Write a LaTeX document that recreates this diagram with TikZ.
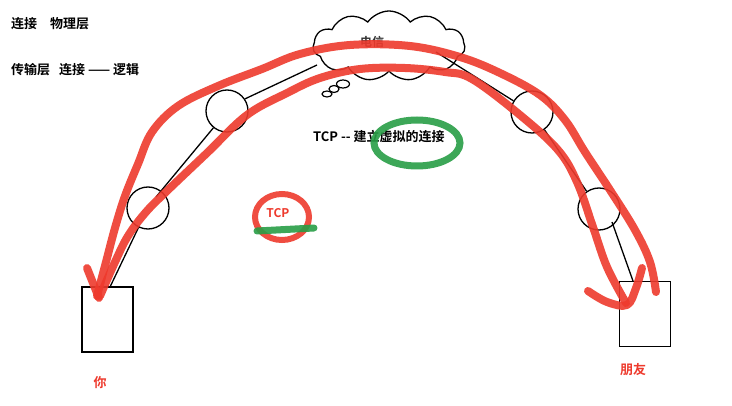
\documentclass[tikz,border=0pt]{standalone}
\usepackage{fontspec}
\setmainfont{Noto Sans CJK SC}[BoldFont={Noto Sans CJK SC Bold}]
\usetikzlibrary{shapes.symbols,shapes.geometric}
\definecolor{pen}{RGB}{238,58,45}
\definecolor{gpen}{RGB}{40,158,70}
\begin{document}
\begin{tikzpicture}[x=1pt,y=-1pt,
  lbl/.style={font=\bfseries\fontsize{13}{15}\selectfont, inner sep=0, anchor=west},
  boxnode/.style={draw, line width=1.5, minimum width=51, minimum height=65, inner sep=0},
  ring/.style={draw, circle, line width=1.3, minimum size=42, inner sep=0},
  wire/.style={line width=1.3},
  redpen/.style={draw=pen, line width=8, line cap=round, line join=round, opacity=0.9},
  greenpen/.style={draw=gpen, line width=7, line cap=round, opacity=0.9}]
\useasboundingbox (0,0) rectangle (732,406);
\fill[white] (0,0) rectangle (732,406);

% boxes and repeaters
\node[boxnode] (you) at (107.5,319.5) {};
\node[boxnode] (friend) at (645,314) {};
\node[ring] (c1) at (148,208) {};
\node[ring] (c2) at (227,111) {};
\node[ring] (c3) at (532,112) {};
\node[ring] (c4) at (599,209) {};
\node[cloud, draw, cloud puffs=11, cloud puff arc=110, aspect=2.1,
      minimum width=152, minimum height=70, line width=1.3, inner sep=0] (cloud) at (389,46) {};
\draw[line width=1.2] (343,84) ellipse [x radius=6.5, y radius=4];
\draw[line width=1.2] (334,89) ellipse [x radius=5, y radius=3.5];
\draw[line width=1.2] (327,94) ellipse [x radius=5, y radius=3];
\node[font=\bfseries\fontsize{12}{14}\selectfont, text=black!80, inner sep=0] (tel) at (372,42) {电信};

% wires
\coordinate (w1) at (110,287);
\coordinate (w2) at (156,197);
\coordinate (cl) at (317,65);
\coordinate (cr) at (436,52);
\coordinate (w5) at (612,222);
\coordinate (w6) at (633,281);
\draw[wire] (w1) -- (c1.244);
\draw[wire] (w2) -- (c2.231);
\draw[wire] (c2.34) -- (cl);
\draw[wire] (cr) -- (c3.149);
\draw[wire] (c3.305) -- (c4.125);
\draw[wire] (w5) -- (w6);

% red strokes
\draw[redpen] plot[smooth, tension=0.6] coordinates {
 (97,296) (106,262) (115,228) (125,196) (138,164) (152,132) (178,106) (218,86) (262,69)
 (300,54) (350,45) (410,46) (460,57) (500,73) (540,95) (565,120) (585,152) (610,190)
 (635,230) (650,262) (656,292)};
\draw[redpen] plot[smooth, tension=0.6] coordinates {
 (100,296) (115,262) (128,236) (146,212) (168,190) (207,153) (247,115) (287,93) (320,78)
 (360,69) (405,68) (445,72) (472,79) (520,115) (558,150) (577,182) (593,227) (607,267) (626,303)};
\coordinate (la) at (87,268);
\coordinate (lt) at (99,298);
\draw[redpen] (la) -- (lt);
\draw[redpen] plot[smooth, tension=0.6] coordinates {(588,291) (607,302) (627,305) (636,288) (642,268)};

% texts
\node[lbl] (t1) at (11,24) {连接\hspace{13pt}物理层};
\node[lbl] (t2) at (11,70) {传输层\hspace{9pt}连接 —— 逻辑};
\node[lbl] (tcp) at (313,137) {TCP {-}{-} 建立虚拟的连接};
\node[ellipse, draw=gpen, line width=7, opacity=0.9, minimum width=86, minimum height=46, inner sep=0] (gring) at (417,143) {};

\node[ellipse, draw=pen, line width=6, opacity=0.9, minimum width=54, minimum height=46, inner sep=0] (rring) at (282,217) {};
\node[font=\bfseries\fontsize{12}{14}\selectfont, text=pen, inner sep=0] (tcp2) at (278,213) {TCP};
\coordinate (g1) at (257,231);
\coordinate (g2) at (314,228);
\draw[greenpen] (g1) -- (g2);

\node[lbl, text=pen, anchor=center] (lyou) at (100,383) {你};
\node[lbl, text=pen, anchor=center] (lfr) at (633,370) {朋友};
\end{tikzpicture}
\end{document}
